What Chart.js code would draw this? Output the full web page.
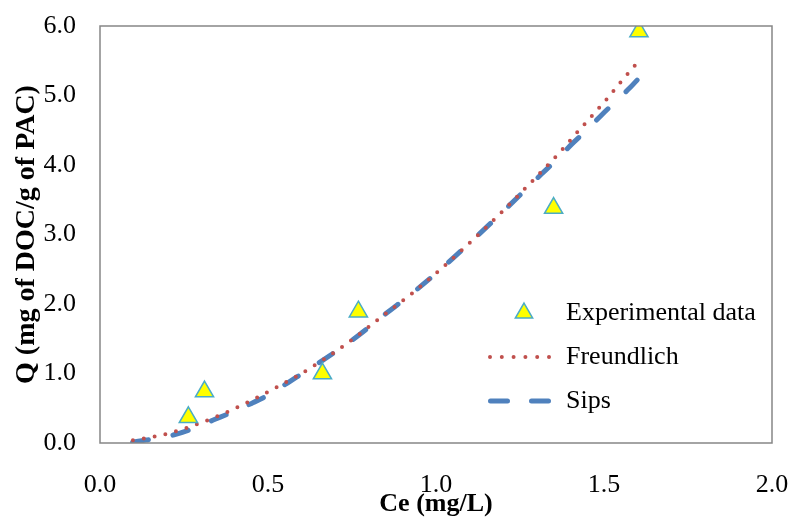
<!DOCTYPE html>
<html>
<head>
<meta charset="utf-8">
<script src="https://cdn.jsdelivr.net/npm/chart.js@4.4.1/dist/chart.umd.min.js"></script>
<style>
  html, body { margin: 0; padding: 0; background: #fff; }
  #wrap { width: 791px; height: 517px; }
</style>
</head>
<body>
<div id="wrap"><canvas id="isoChart" width="791" height="517"></canvas></div>
<script>
"use strict";

// experimental points
var ceExp = [0.263, 0.311, 0.662, 0.769, 1.350, 1.604];
var qExp = [0.37, 0.74, 1.00, 1.89, 3.38, 5.92];

// Freundlich model curve
var ceFreund = [0.098, 0.171, 0.205, 0.306, 0.403, 0.529, 0.620, 0.737, 0.850, 0.933, 1.014, 1.118, 1.193, 1.293, 1.366, 1.413, 1.459, 1.507, 1.551, 1.597];
var qFreund = [0.04, 0.10, 0.14, 0.30, 0.50, 0.81, 1.06, 1.44, 1.86, 2.17, 2.50, 2.96, 3.31, 3.80, 4.17, 4.43, 4.68, 4.94, 5.20, 5.46];

// Sips model curve
var ceSips = [0.097, 0.218, 0.278, 0.337, 0.392, 0.451, 0.501, 0.560, 0.709, 0.764, 0.853, 0.933, 1.014, 1.118, 1.193, 1.314, 1.364, 1.404, 1.448, 1.493, 1.538, 1.577, 1.604];
var qSips = [0.01, 0.115, 0.21, 0.33, 0.44, 0.57, 0.69, 0.87, 1.34, 1.53, 1.87, 2.17, 2.50, 2.96, 3.30, 3.87, 4.10, 4.30, 4.50, 4.72, 4.93, 5.11, 5.25];

var seriesNames = ['Experimental data', 'Freundlich', 'Sips'];
var xTicks = [0, 0.5, 1.0, 1.5, 2.0];
var yTicks = [0, 1, 2, 3, 4, 5, 6];

function toXY(xs, ys) {
    return xs.map(function (x, i) { return { x: x, y: ys[i] }; });
}

// keep Chart.js from adding its own room for overflowing labels
function noScalePadding(scale) {
    scale.paddingLeft = 0;
    scale.paddingRight = 0;
    scale.paddingTop = 0;
    scale.paddingBottom = 0;
}

var serif = "'Liberation Serif', 'Times New Roman', serif";
var axisGray = '#868686';

// box round the plot area + legend inside it
var plotExtras = {
    id: 'plotExtras',
    afterDraw: function (chart) {
        var ctx = chart.ctx;
        var a = chart.chartArea;
        ctx.save();
        ctx.strokeStyle = axisGray;
        ctx.lineWidth = 1.5;
        ctx.strokeRect(a.left, a.top, a.right - a.left, a.bottom - a.top);

        var lx = a.left + 400;   // marker column
        var tx = a.left + 466;   // text column
        var rows = [a.top + 287, a.top + 331, a.top + 375];

        // triangle
        var r = 10;
        ctx.beginPath();
        ctx.moveTo(lx + 24, rows[0] - r);
        ctx.lineTo(lx + 24 + r * 0.866, rows[0] + r / 2);
        ctx.lineTo(lx + 24 - r * 0.866, rows[0] + r / 2);
        ctx.closePath();
        ctx.fillStyle = '#FFFF00';
        ctx.fill();
        ctx.strokeStyle = '#4BACC6';
        ctx.lineWidth = 1.5;
        ctx.stroke();

        // dotted line
        ctx.beginPath();
        ctx.setLineDash([0, 11.8]);
        ctx.lineCap = 'round';
        ctx.strokeStyle = '#C0504D';
        ctx.lineWidth = 4;
        ctx.moveTo(lx - 10, rows[1]);
        ctx.lineTo(lx + 50, rows[1]);
        ctx.stroke();

        // dashed line
        ctx.beginPath();
        ctx.setLineDash([17, 24]);
        ctx.strokeStyle = '#4F81BD';
        ctx.lineWidth = 5;
        ctx.moveTo(lx - 9.5, rows[2]);
        ctx.lineTo(lx + 49.5, rows[2]);
        ctx.stroke();
        ctx.setLineDash([]);

        ctx.fillStyle = '#000';
        ctx.font = '26px ' + serif;
        ctx.textBaseline = 'middle';
        ctx.textAlign = 'left';
        seriesNames.forEach(function (name, i) {
            ctx.fillText(name, tx, rows[i]);
        });
        ctx.restore();
    }
};

var ctx = document.getElementById('isoChart').getContext('2d');
var isoChart = new Chart(ctx, {
    type: 'scatter',
    data: {
        datasets: [{
            label: seriesNames[0],
            data: toXY(ceExp, qExp),
            pointStyle: 'triangle',
            pointRadius: 10.5,
            backgroundColor: '#FFFF00',
            borderColor: '#4BACC6',
            borderWidth: 1.5,
            showLine: false
        }, {
            label: seriesNames[1],
            data: toXY(ceFreund, qFreund),
            showLine: true,
            pointRadius: 0,
            borderColor: '#C0504D',
            borderWidth: 4,
            borderDash: [0, 11],
            borderCapStyle: 'round',
            cubicInterpolationMode: 'monotone'
        }, {
            label: seriesNames[2],
            data: toXY(ceSips, qSips),
            showLine: true,
            pointRadius: 0,
            borderColor: '#4F81BD',
            borderWidth: 5,
            borderDash: [16, 25],
            borderCapStyle: 'round',
            cubicInterpolationMode: 'monotone'
        }]
    },
    options: {
        responsive: false,
        animation: false,
        layout: { padding: { top: 26, right: 19, left: 0, bottom: 0 } },
        plugins: {
            legend: { display: false },
            tooltip: { enabled: false }
        },
        scales: {
            x: {
                type: 'linear',
                min: 0,
                max: 2,
                afterBuildTicks: function (scale) {
                    scale.ticks = xTicks.map(function (v) { return { value: v }; });
                },
                afterFit: function (scale) {
                    scale.height = 74;
                    noScalePadding(scale);
                },
                grid: { display: false, drawTicks: false },
                border: { display: false },
                ticks: {
                    padding: 27,
                    color: '#000',
                    font: { family: serif, size: 26 },
                    callback: function (v) { return Number(v).toFixed(1); }
                },
                title: {
                    display: true,
                    text: 'Ce (mg/L)',
                    color: '#000',
                    padding: 0,
                    font: { family: serif, size: 26, weight: 'bold', lineHeight: 1 }
                }
            },
            y: {
                type: 'linear',
                min: 0,
                max: 6,
                afterBuildTicks: function (scale) {
                    scale.ticks = yTicks.map(function (v) { return { value: v }; });
                },
                afterFit: function (scale) {
                    scale.width = 100;
                    noScalePadding(scale);
                },
                grid: { display: false, drawTicks: false },
                border: { display: false },
                ticks: {
                    padding: 24,
                    color: '#000',
                    font: { family: serif, size: 26 },
                    callback: function (v) { return Number(v).toFixed(1); }
                },
                title: {
                    display: true,
                    text: 'Q (mg of DOC/g of PAC)',
                    color: '#000',
                    padding: { top: 13, bottom: 0 },
                    font: { family: serif, size: 28, weight: 'bold', lineHeight: 1 }
                }
            }
        }
    },
    plugins: [plotExtras]
});
</script>
</body>
</html>
